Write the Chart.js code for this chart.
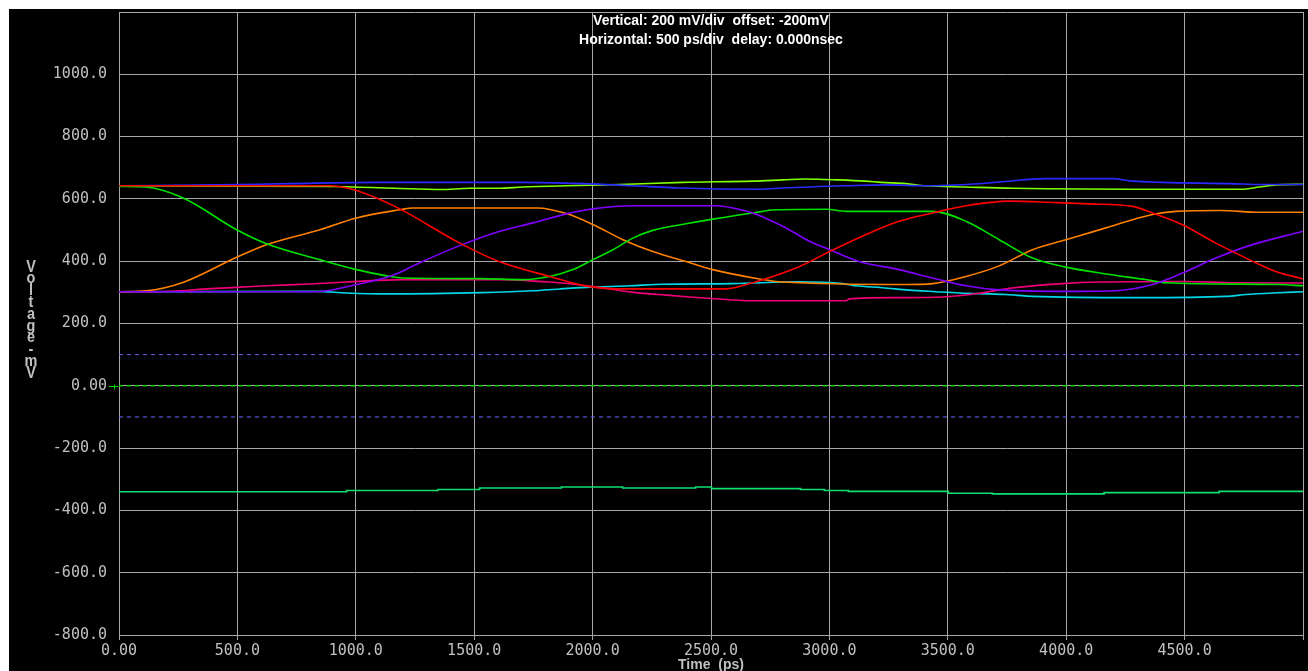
<!DOCTYPE html>
<html>
<head>
<meta charset="utf-8">
<title>Voltage vs Time</title>
<script src="https://cdn.jsdelivr.net/npm/chart.js@4.4.1/dist/chart.umd.min.js"></script>
<style>
  html, body { margin: 0; padding: 0; background: #fff; overflow: hidden; }
  canvas { display: block; }
</style>
</head>
<body>
<canvas id="scope" width="1308" height="671"></canvas>
<script>
// Axis ticks
const xTicks = [0, 500, 1000, 1500, 2000, 2500, 3000, 3500, 4000, 4500, 5000];
const yTicks = [-800, -600, -400, -200, 0, 200, 400, 600, 800, 1000, 1200];

// Header text
const headerLines = ['Vertical: 200 mV/div  offset: -200mV', 'Horizontal: 500 ps/div  delay: 0.000nsec'];

// Traces (time in ps, voltage in mV)
const redT = [0, 890, 988, 1087, 1186, 1439, 1608, 1819, 1973, 2100, 2564, 2676, 2761, 2874, 3001, 3153, 3294, 3436, 3577, 3760, 3957, 4097, 4280, 4364, 4491, 4632, 4773, 4885, 5000];
const redV = [642, 642, 630, 603, 568, 458, 398, 351, 320, 311, 311, 331, 351, 383, 431, 485, 528, 555, 578, 593, 588, 584, 576, 555, 517, 458, 405, 367, 343];

const purpleT = [0, 834, 1003, 1157, 1270, 1439, 1608, 1748, 1889, 2001, 2170, 2522, 2592, 2676, 2803, 2916, 3001, 3125, 3294, 3436, 3577, 3717, 4055, 4210, 4364, 4491, 4632, 4773, 5000];
const purpleV = [302, 302, 325, 355, 395, 450, 496, 523, 552, 568, 578, 578, 571, 555, 512, 464, 437, 399, 373, 346, 321, 308, 303, 305, 325, 362, 410, 450, 496];

const greenT = [0, 110, 271, 497, 623, 848, 1003, 1130, 1200, 1523, 1706, 1819, 1917, 2001, 2086, 2170, 2254, 2395, 2508, 2676, 2775, 2986, 3070, 3436, 3577, 3717, 3858, 3999, 4168, 4336, 4420, 4898, 5000];
const greenV = [640, 638, 603, 501, 456, 405, 373, 353, 346, 344, 341, 351, 373, 405, 437, 474, 499, 520, 535, 555, 565, 567, 560, 560, 528, 469, 410, 381, 359, 341, 331, 325, 321];

const orangeT = [0, 114, 270, 497, 623, 848, 1003, 1186, 1240, 1768, 1889, 2001, 2128, 2254, 2395, 2508, 2705, 2803, 3323, 3436, 3577, 3717, 3858, 3999, 4168, 4364, 4463, 4650, 4815, 5000];
const orangeV = [302, 305, 332, 413, 453, 501, 539, 565, 571, 571, 553, 518, 469, 431, 399, 373, 343, 333, 325, 328, 351, 385, 437, 469, 507, 550, 560, 563, 557, 557];

const pinkT = [0, 140, 257, 370, 497, 623, 806, 960, 1200, 1608, 1819, 2001, 2170, 2282, 2409, 2564, 2662, 3070, 3084, 3294, 3478, 3633, 3760, 3985, 4140, 4500, 4702, 5000];
const pinkV = [302, 302, 305, 311, 316, 321, 327, 333, 341, 341, 333, 319, 300, 293, 285, 277, 273, 273, 279, 283, 285, 297, 313, 328, 333, 335, 331, 330];

const cyanT = [0, 834, 960, 1130, 1530, 1748, 1861, 1973, 2156, 2297, 2592, 2874, 3056, 3111, 3224, 3337, 3450, 3548, 3745, 3858, 4308, 4674, 4759, 4871, 5000];
const cyanV = [302, 303, 298, 295, 299, 305, 311, 316, 321, 326, 328, 334, 328, 321, 315, 307, 302, 298, 293, 287, 283, 287, 293, 298, 302];

const blueT = [0, 409, 720, 1093, 1700, 1959, 2170, 2366, 2705, 2803, 3070, 3238, 3408, 3633, 3731, 3915, 4196, 4280, 4407, 4688, 4829, 5000];
const blueV = [642, 645, 649, 653, 653, 649, 642, 635, 631, 635, 642, 645, 642, 649, 655, 665, 665, 657, 653, 649, 646, 646];

const limeT = [0, 890, 1163, 1360, 1480, 1600, 1706, 1882, 2114, 2381, 2676, 2803, 2899, 3040, 3153, 3220, 3323, 3408, 3577, 3774, 4491, 4740, 4815, 4885, 5000];
const limeV = [642, 640, 634, 630, 634, 634, 638, 642, 646, 653, 657, 661, 664, 661, 657, 653, 649, 642, 638, 634, 631, 631, 638, 645, 647];

// Bottom trace is stepped: each value holds until the next time
const tealT = [0, 961, 1347, 1523, 1868, 2127, 2435, 2502, 2878, 2979, 3080, 3502, 3688, 4160, 4646, 4873, 5000];
const tealV = [-336, -340, -336, -333, -328, -325, -328, -325, -330, -333, -336, -339, -345, -347, -343, -339, -339];

// Reference levels (dashed)
const refT = [0, 5000];
const upperRefV = [100, 100];
const zeroRefV = [0, 0];
const lowerRefV = [-100, -100];

function pts(ts, vs) {
  return ts.map((t, i) => ({ x: t, y: vs[i] }));
}

function trace(ts, vs, color, extra) {
  return Object.assign({
    data: pts(ts, vs),
    borderColor: color,
    borderWidth: 1.6,
    pointRadius: 0,
    fill: false,
    cubicInterpolationMode: 'monotone'
  }, extra || {});
}

const gridColor = '#a8a8a8';
const tickFont = { family: 'DejaVu Sans Mono', size: 15 };

// Draw page background, header, axis titles and zero marker
const scopeDecor = {
  id: 'scopeDecor',
  beforeDraw(chart) {
    const ctx = chart.ctx;
    ctx.save();
    ctx.fillStyle = '#ffffff';
    ctx.fillRect(0, 0, chart.width, chart.height);
    ctx.fillStyle = '#000000';
    ctx.fillRect(9, 9, chart.width - 9, chart.height - 9);
    ctx.restore();
  },
  afterDraw(chart) {
    const ctx = chart.ctx;
    const area = chart.chartArea;
    const cx = (area.left + area.right) / 2;
    ctx.save();

    // header, slightly condensed like the scope font
    ctx.fillStyle = '#ffffff';
    ctx.font = 'bold 14px "Liberation Sans"';
    ctx.textAlign = 'center';
    ctx.textBaseline = 'middle';
    const widths = [265, 303];
    headerLines.forEach((line, i) => {
      const w = ctx.measureText(line).width;
      ctx.save();
      ctx.translate(cx, 21 + i * 19);
      ctx.scale(Math.min(1, widths[i] / w), 1);
      ctx.fillText(line, 0, 0);
      ctx.restore();
    });

    // x axis title
    ctx.fillStyle = '#c0c0c0';
    ctx.font = 'bold 14px "Liberation Sans"';
    ctx.textBaseline = 'top';
    ctx.fillText('Time  (ps)', cx, 658);

    // y axis title, one letter per row
    ctx.font = 'bold 17px "Liberation Sans"';
    ctx.textBaseline = 'middle';
    'Voltage-mV'.split('').forEach((ch, i) => {
      ctx.save();
      ctx.translate(31, 267 + i * 11.8);
      ctx.scale(0.85, 1);
      ctx.fillText(ch, 0, 0);
      ctx.restore();
    });

    // green ground marker at 0 mV
    const y0 = Math.round(chart.scales.y.getPixelForValue(0)) + 0.5;
    ctx.strokeStyle = '#00e000';
    ctx.lineWidth = 1;
    ctx.beginPath();
    ctx.moveTo(109, y0);
    ctx.lineTo(118, y0);
    ctx.moveTo(114.5, y0 - 2);
    ctx.lineTo(114.5, y0 + 3);
    ctx.stroke();
    ctx.restore();
  }
};

const ctx = document.getElementById('scope').getContext('2d');
new Chart(ctx, {
  type: 'line',
  data: {
    datasets: [
      trace(redT, redV, '#ff0000'),
      trace(purpleT, purpleV, '#8000ff'),
      trace(greenT, greenV, '#00e000'),
      trace(orangeT, orangeV, '#ff8000'),
      trace(pinkT, pinkV, '#f00078'),
      trace(cyanT, cyanV, '#00d8e8'),
      trace(blueT, blueV, '#2a2aff'),
      trace(limeT, limeV, '#80ff00'),
      trace(tealT, tealV, '#10e070', { stepped: 'after', cubicInterpolationMode: 'default' }),
      trace(refT, upperRefV, '#6464ff', { borderWidth: 1, borderDash: [4, 4] }),
      trace(refT, zeroRefV, '#00e000', { borderWidth: 1.5, borderDash: [4, 4] }),
      trace(refT, lowerRefV, '#6464ff', { borderWidth: 1, borderDash: [4, 4] })
    ]
  },
  options: {
    responsive: false,
    animation: false,
    devicePixelRatio: 1,
    layout: { padding: { top: 0, right: 5, left: 0, bottom: 0 } },
    plugins: {
      legend: { display: false },
      tooltip: { enabled: false }
    },
    scales: {
      x: {
        type: 'linear',
        min: 0,
        max: 5000,
        afterBuildTicks: scale => { scale.ticks = xTicks.map(v => ({ value: v })); },
        afterFit: scale => { scale.height = 36; },
        grid: { color: gridColor, lineWidth: 1, tickLength: 5, tickColor: gridColor },
        border: { color: gridColor },
        ticks: {
          color: '#c0c0c0',
          font: tickFont,
          padding: 2,
          maxRotation: 0,
          autoSkip: false,
          callback: v => v === 5000 ? '' : (v === 0 ? '0.00' : v.toFixed(1))
        }
      },
      y: {
        min: -800,
        max: 1200,
        afterBuildTicks: scale => { scale.ticks = yTicks.map(v => ({ value: v })); },
        afterFit: scale => {
          scale.width = 119;
          scale.paddingTop = 12;
          scale.paddingBottom = 0;
        },
        grid: { color: gridColor, lineWidth: 1, drawTicks: false },
        border: { color: gridColor },
        ticks: {
          color: '#c0c0c0',
          font: tickFont,
          padding: 12,
          callback: v => v === 1200 ? '' : (v === 0 ? '0.00' : v.toFixed(1))
        }
      }
    }
  },
  plugins: [scopeDecor]
});
</script>
</body>
</html>
